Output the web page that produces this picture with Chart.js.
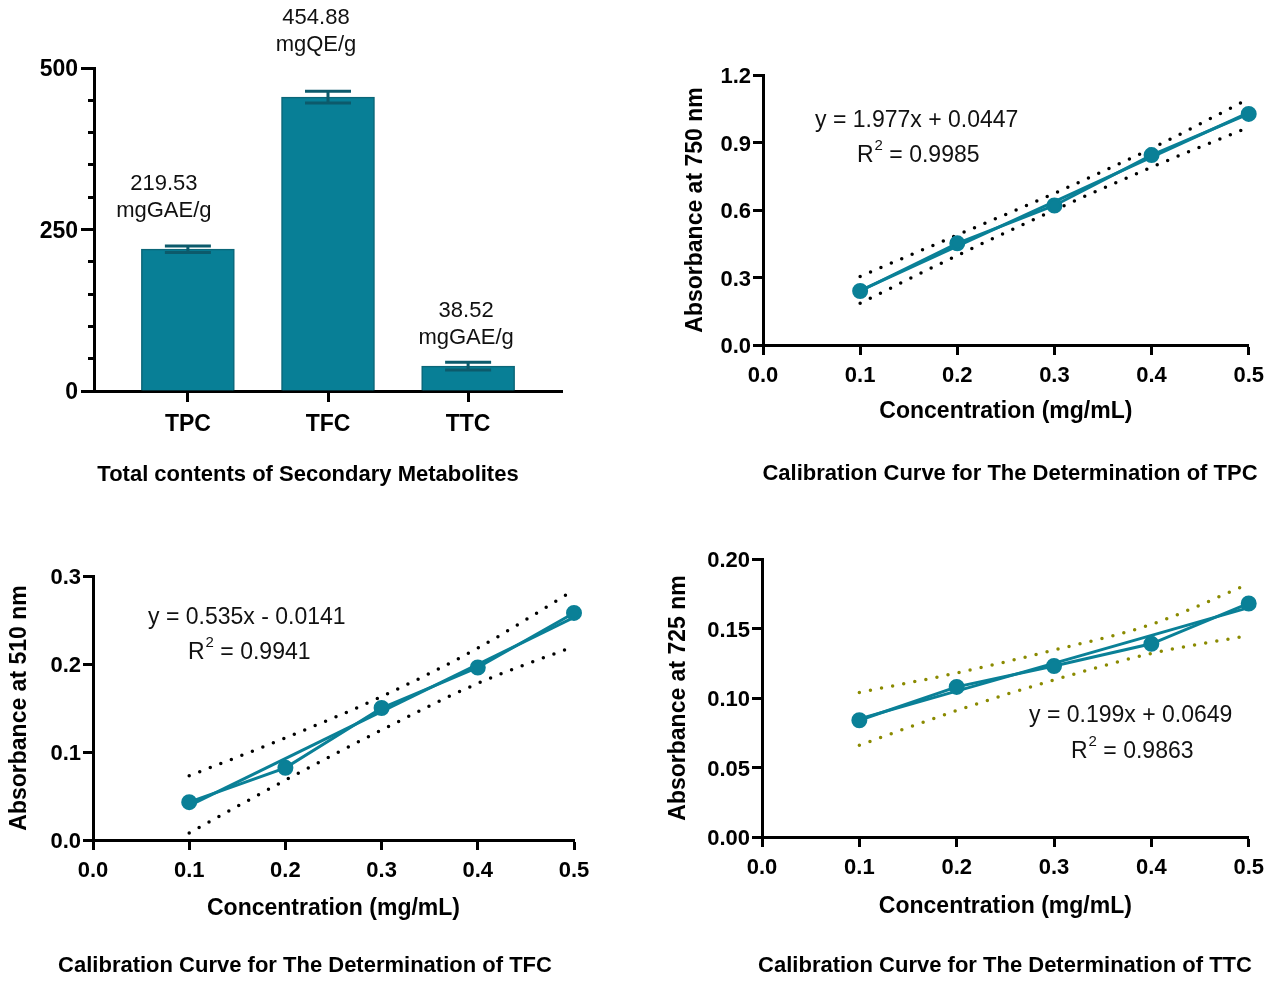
<!DOCTYPE html>
<html>
<head>
<meta charset="utf-8">
<script src="https://cdn.jsdelivr.net/npm/chart.js@4.4.0/dist/chart.umd.min.js"></script>
<style>
  body { margin: 0; background: #fff; width: 1272px; height: 981px; position: relative; overflow: hidden; }
  canvas { position: absolute; }
</style>
</head>
<body>
<canvas id="barChart" width="610" height="500" style="left:0;top:0"></canvas>
<canvas id="tpcChart" width="632" height="500" style="left:640px;top:0"></canvas>
<canvas id="tfcChart" width="620" height="481" style="left:0;top:500px"></canvas>
<canvas id="ttcChart" width="632" height="481" style="left:640px;top:500px"></canvas>
<script>
// bar chart data
const categories = ['TPC', 'TFC', 'TTC'];
const contentValues = [219.53, 454.88, 38.52];
const contentErrors = [5, 9, 6];
const contentUnits = ['mgGAE/g', 'mgQE/g', 'mgGAE/g'];

// calibration curves (x = concentration)
const concentrations = [0.1, 0.2, 0.3, 0.4, 0.5];

const tpcAbs = [0.240, 0.452, 0.620, 0.844, 1.027];
const tpcFit = [0.242, 1.033];
const tpcUpper = [0.305, 0.489, 0.674, 0.874, 1.094];
const tpcLower = [0.186, 0.398, 0.600, 0.790, 0.968];

const tfcAbs = [0.043, 0.082, 0.150, 0.196, 0.258];
const tfcFit = [0.039, 0.253];
const tfcUpper = [0.073, 0.116, 0.163, 0.218, 0.284];
const tfcLower = [0.008, 0.068, 0.125, 0.178, 0.220];

const ttcAbs = [0.084, 0.108, 0.123, 0.139, 0.168];
const ttcFit = [0.085, 0.165];
const ttcUpper = [0.104, 0.118, 0.1345, 0.153, 0.182];
const ttcLower = [0.066, 0.091, 0.113, 0.132, 0.145];

const FONT = "'Liberation Sans', Arial, sans-serif";
const teal = '#0a8097';
Chart.defaults.font.family = FONT;
Chart.defaults.color = '#000';

function drawCaption(ctx, text, x, y) {
  ctx.font = 'bold 22px ' + FONT;
  ctx.fillStyle = '#000';
  ctx.textAlign = 'center';
  ctx.textBaseline = 'middle';
  ctx.fillText(text, x, y);
}

// label nudges for the bar value texts (px, relative to bar top)
const labelShift = [[-24, -65], [-12, -79], [-2, -55]];

const barDecor = {
  id: 'barDecor',
  afterDatasetsDraw(chart) {
    const { ctx, scales: { x, y } } = chart;
    ctx.save();
    ctx.strokeStyle = '#0c5a6b';
    ctx.lineWidth = 3;
    contentValues.forEach((v, i) => {
      const cx = x.getPixelForValue(i + 1);
      const top = y.getPixelForValue(v + contentErrors[i]);
      const bot = y.getPixelForValue(v - contentErrors[i]);
      ctx.beginPath();
      ctx.moveTo(cx, top); ctx.lineTo(cx, bot);
      ctx.moveTo(cx - 23, top); ctx.lineTo(cx + 23, top);
      ctx.moveTo(cx - 23, bot); ctx.lineTo(cx + 23, bot);
      ctx.stroke();

      const by = y.getPixelForValue(v);
      ctx.fillStyle = '#111';
      ctx.font = '22px ' + FONT;
      ctx.textAlign = 'center';
      ctx.textBaseline = 'middle';
      ctx.fillText(v.toFixed(2), cx + labelShift[i][0], by + labelShift[i][1]);
      ctx.fillText(contentUnits[i], cx + labelShift[i][0], by + labelShift[i][1] + 27);
    });
    drawCaption(ctx, 'Total contents of Secondary Metabolites', 308, 475);
    ctx.restore();
  }
};

new Chart(document.getElementById('barChart'), {
  type: 'bar',
  data: {
    datasets: [{
      data: contentValues.map((v, i) => ({ x: i + 1, y: v })),
      backgroundColor: '#087f96',
      borderColor: '#0b6678',
      borderWidth: 1.5,
      barThickness: 93
    }]
  },
  options: {
    responsive: false,
    animation: false,
    layout: { padding: { top: 68, right: 48, left: 0, bottom: 0 } },
    plugins: { legend: { display: false }, tooltip: { enabled: false } },
    scales: {
      x: {
        type: 'linear', min: 0.33, max: 3.67, offset: false,
        afterBuildTicks: s => { s.ticks = categories.map((c, i) => ({ value: i + 1 })); },
        ticks: { callback: (v, i) => categories[i], font: { size: 23, weight: 'bold' }, padding: 9 },
        grid: { offset: false, drawOnChartArea: false, tickLength: 11, tickWidth: 3, tickColor: '#000' },
        border: { width: 3, color: '#000' },
        afterFit: s => { s.height = 109; }
      },
      y: {
        min: 0, max: 500, weight: 1,
        ticks: { stepSize: 250, font: { size: 23, weight: 'bold' }, padding: 3, labelOffset: 2 },
        grid: { drawOnChartArea: false, tickLength: 13, tickWidth: 3, tickColor: '#000' },
        border: { width: 3, color: '#000' },
        afterFit: s => { s.width = 94; }
      },
      yMinor: {
        position: 'left', min: 0, max: 500, weight: 0,
        ticks: { stepSize: 50, display: false },
        grid: { drawOnChartArea: false, tickLength: 6, tickWidth: 3, tickColor: '#000' },
        border: { display: false },
        afterFit: s => { s.width = 0; }
      }
    }
  },
  plugins: [barDecor]
});

function calibChart(id, o) {
  const pts = arr => concentrations.map((x, i) => ({ x, y: arr[i] }));
  const band = arr => ({
    data: pts(arr), showLine: true, borderColor: o.bandColor, borderWidth: 3.5,
    borderDash: [0, 11.3], borderCapStyle: 'round', pointRadius: 0,
    cubicInterpolationMode: 'monotone', clip: false
  });
  const decor = {
    id: 'decor',
    afterDraw(chart) {
      const ctx = chart.ctx;
      ctx.save();
      ctx.fillStyle = '#111';
      ctx.textAlign = 'left';
      ctx.textBaseline = 'middle';
      ctx.font = '23px ' + FONT;
      ctx.fillText(o.equation, o.eqPos[0], o.eqPos[1]);
      let rx = o.r2Pos[0];
      const ry = o.r2Pos[1];
      ctx.fillText('R', rx, ry);
      rx += ctx.measureText('R').width + 1;
      ctx.font = '15px ' + FONT;
      ctx.fillText('2', rx, ry - 10);
      rx += ctx.measureText('2').width;
      ctx.font = '23px ' + FONT;
      ctx.fillText(' = ' + o.r2, rx, ry);
      drawCaption(ctx, o.caption, o.capPos[0], o.capPos[1]);
      ctx.restore();
    }
  };
  return new Chart(document.getElementById(id), {
    type: 'scatter',
    data: {
      datasets: [
        { data: pts(o.abs), showLine: true, borderColor: teal, backgroundColor: teal,
          borderWidth: 3, pointRadius: 6.5, pointHoverRadius: 6.5, clip: false },
        { data: [{ x: concentrations[0], y: o.fit[0] }, { x: concentrations[4], y: o.fit[1] }],
          showLine: true, borderColor: teal, borderWidth: 3, pointRadius: 0, clip: false },
        band(o.upper),
        band(o.lower)
      ]
    },
    options: {
      responsive: false,
      animation: false,
      layout: { padding: o.pad },
      plugins: { legend: { display: false }, tooltip: { enabled: false } },
      scales: {
        x: {
          type: 'linear', min: 0, max: 0.5,
          ticks: { stepSize: 0.1, callback: v => v.toFixed(1), font: { size: 22, weight: 'bold' }, padding: 8 },
          grid: { drawOnChartArea: false, tickLength: 10, tickWidth: 3, tickColor: '#000' },
          border: { width: 3, color: '#000' },
          title: { display: true, text: 'Concentration (mg/mL)', font: { size: 23, weight: 'bold' },
                   padding: { top: 0, bottom: o.xTitlePad } },
          afterFit: s => { s.height = o.xH; }
        },
        y: {
          min: 0, max: o.yMax,
          ticks: { stepSize: o.yStep, callback: v => v.toFixed(o.dec), font: { size: 22, weight: 'bold' },
                   padding: 2, labelOffset: 2 },
          grid: { drawOnChartArea: false, tickLength: 10, tickWidth: 3, tickColor: '#000' },
          border: { width: 3, color: '#000' },
          title: { display: true, text: o.yTitle, font: { size: 23, weight: 'bold' },
                   padding: { top: o.yTitlePad, bottom: 0 } },
          afterFit: s => { s.width = o.yW; }
        }
      }
    },
    plugins: [decor]
  });
}

calibChart('tpcChart', {
  abs: tpcAbs, fit: tpcFit, upper: tpcUpper, lower: tpcLower, bandColor: '#000',
  yMax: 1.2, yStep: 0.3, dec: 1, yTitle: 'Absorbance at 750 nm',
  equation: 'y = 1.977x + 0.0447', r2: '0.9985', eqPos: [175, 121], r2Pos: [217, 156],
  caption: 'Calibration Curve for The Determination of TPC', capPos: [370, 474],
  pad: { top: 75, right: 22, left: 0, bottom: 0 }, yW: 123, xH: 155, yTitlePad: 42, xTitlePad: 74.2
});

calibChart('tfcChart', {
  abs: tfcAbs, fit: tfcFit, upper: tfcUpper, lower: tfcLower, bandColor: '#000',
  yMax: 0.3, yStep: 0.1, dec: 1, yTitle: 'Absorbance at 510 nm',
  equation: 'y = 0.535x - 0.0141', r2: '0.9941', eqPos: [148, 118], r2Pos: [188, 153],
  caption: 'Calibration Curve for The Determination of TFC', capPos: [305, 466],
  pad: { top: 76, right: 46, left: 0, bottom: 0 }, yW: 93, xH: 141, yTitlePad: 6, xTitlePad: 58.2
});

calibChart('ttcChart', {
  abs: ttcAbs, fit: ttcFit, upper: ttcUpper, lower: ttcLower, bandColor: '#8a8a00',
  yMax: 0.2, yStep: 0.05, dec: 2, yTitle: 'Absorbance at 725 nm',
  equation: 'y = 0.199x + 0.0649', r2: '0.9863', eqPos: [389, 216], r2Pos: [431, 252],
  caption: 'Calibration Curve for The Determination of TTC', capPos: [365, 466],
  pad: { top: 59, right: 23, left: 0, bottom: 0 }, yW: 122, xH: 144, yTitlePad: 25, xTitlePad: 60.2
});
</script>
</body>
</html>
